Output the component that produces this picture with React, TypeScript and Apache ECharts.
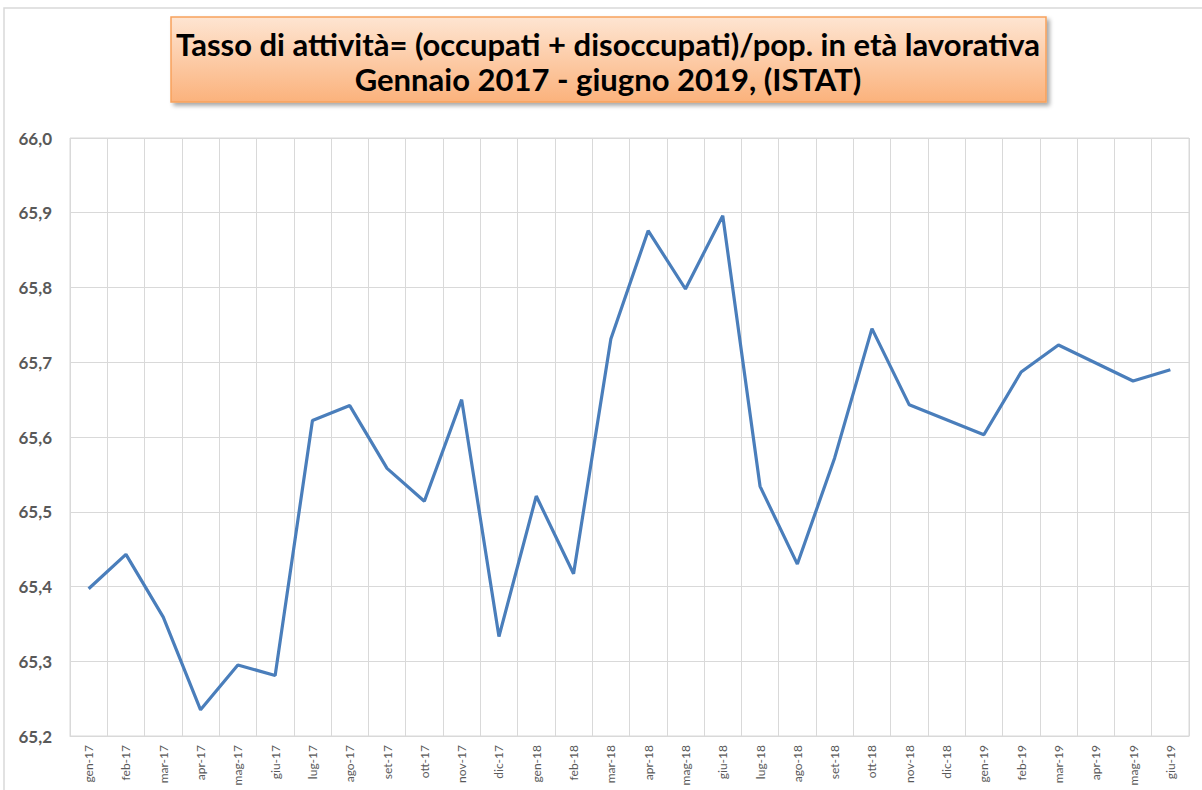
import React, { useEffect, useRef } from "react";
import * as echarts from "echarts";

const categories = [
  "gen-17", "feb-17", "mar-17", "apr-17", "mag-17", "giu-17", "lug-17", "ago-17", "set-17", "ott-17", "nov-17", "dic-17",
  "gen-18", "feb-18", "mar-18", "apr-18", "mag-18", "giu-18", "lug-18", "ago-18", "set-18", "ott-18", "nov-18", "dic-18",
  "gen-19", "feb-19", "mar-19", "apr-19", "mag-19", "giu-19",
];

const tassoAttivita = [
  65.397, 65.443, 65.359, 65.235, 65.295, 65.281, 65.622, 65.642, 65.558, 65.514, 65.65, 65.333,
  65.521, 65.417, 65.731, 65.876, 65.798, 65.896, 65.534, 65.43, 65.572, 65.745, 65.643, 65.623,
  65.603, 65.687, 65.723, 65.699, 65.675, 65.69,
];

const titleLines = [
  "Tasso di attività= (occupati + disoccupati)/pop. in età lavorativa",
  "Gennaio 2017 - giugno 2019, (ISTAT)",
];

const yMin = 65.2;
const yMax = 66.0;
const yStep = 0.1;

export default function App() {
  const ref = useRef<HTMLDivElement>(null);

  useEffect(() => {
    if (!ref.current) return;
    const chart = echarts.init(ref.current, null, { renderer: "svg" });
    const font = "Lato, 'Open Sans', sans-serif";
    chart.setOption({
      animation: false,
      backgroundColor: "#ffffff",
      graphic: [
        {
          type: "rect",
          shape: { x: 4, y: 8, width: 1220, height: 820 },
          style: { fill: "none", stroke: "#d9d9d9", lineWidth: 1.5 },
          silent: true,
          z: 0,
        },
        {
          type: "rect",
          shape: { x: 171, y: 17, width: 875, height: 85 },
          style: {
            fill: new echarts.graphic.LinearGradient(0, 0, 0, 1, [
              { offset: 0, color: "#fee5d2" },
              { offset: 1, color: "#fbb27c" },
            ]),
            stroke: "#f7a15c",
            lineWidth: 1.5,
            shadowBlur: 4,
            shadowOffsetX: 3,
            shadowOffsetY: 3,
            shadowColor: "rgba(0,0,0,0.35)",
          },
          silent: true,
          z: 1,
        },
      ],
      title: {
        text: titleLines.join("\n"),
        left: 608,
        top: 26,
        padding: 0,
        textAlign: "center",
        z: 10,
        textStyle: {
          fontFamily: font,
          fontSize: 31,
          fontWeight: "bold",
          color: "#000000",
          lineHeight: 35,
        },
      },
      grid: {
        left: 70,
        right: 13,
        top: 138,
        bottom: 54,
        containLabel: false,
        show: true,
        borderColor: "#d9d9d9",
        borderWidth: 1,
      },
      xAxis: {
        type: "category",
        data: categories,
        boundaryGap: true,
        axisLine: { show: true, lineStyle: { color: "#d9d9d9", width: 1 } },
        axisTick: { show: false },
        axisLabel: {
          interval: 0,
          rotate: 90,
          margin: 9,
          fontFamily: font,
          fontSize: 12,
          color: "#595959",
        },
        splitLine: { show: true, interval: 0, lineStyle: { color: "#d9d9d9", width: 1 } },
      },
      yAxis: {
        type: "value",
        min: yMin,
        max: yMax,
        interval: yStep,
        axisLine: { show: false },
        axisTick: { show: false },
        axisLabel: {
          margin: 18,
          fontFamily: font,
          fontSize: 17,
          fontWeight: "bold",
          color: "#595959",
          formatter: (v: number) => v.toFixed(1).replace(".", ","),
        },
        splitLine: { show: true, lineStyle: { color: "#d9d9d9", width: 1 } },
      },
      series: [
        {
          type: "line",
          data: tassoAttivita,
          showSymbol: false,
          symbol: "none",
          lineStyle: { color: "#4a7ebb", width: 3.2 },
          itemStyle: { color: "#4a7ebb" },
        },
      ],
    });
    return () => chart.dispose();
  }, []);

  return (
    <div
      ref={ref}
      style={{ position: "fixed", left: 0, top: 0, width: 1202, height: 790 }}
    />
  );
}
